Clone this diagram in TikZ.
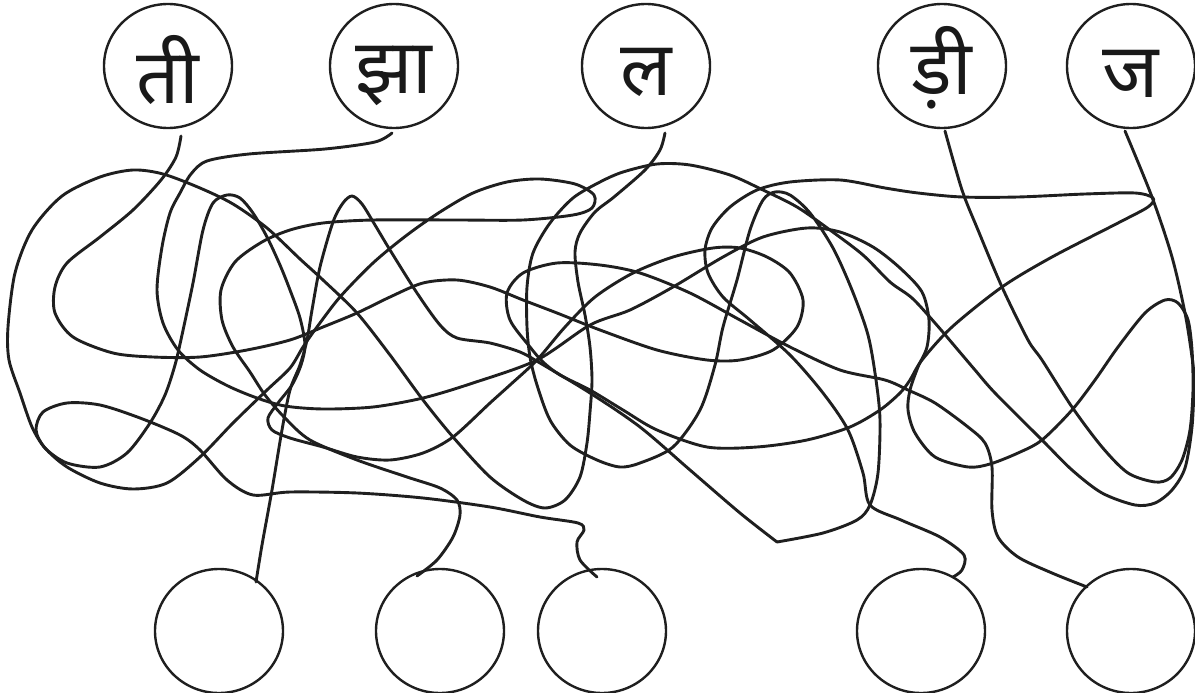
\documentclass[tikz,border=0pt]{standalone}
\usepackage{fontspec}
\newfontfamily\dev[Script=Devanagari]{Noto Sans}
\usetikzlibrary{shapes.geometric}
\tikzset{
  cnode/.style={draw=black!88, line width=2.4pt, ellipse, minimum width=128pt, minimum height=124pt, inner sep=0pt},
  lbl/.style={font=\dev\fontsize{76}{80}\selectfont, text=black!90, inner sep=0pt},
  ln/.style={draw=black!88, line width=2.9pt, line cap=round, line join=round},
  sm/.style={smooth, tension=0.5}
}
\begin{document}
\begin{tikzpicture}[x=1pt,y=-1pt]
\useasboundingbox (0,0) rectangle (1195,693);
% top circles
\node[cnode] (t1) at (168,66) {};
\node[cnode] (t2) at (394,66) {};
\node[cnode] (t3) at (646,66) {};
\node[cnode] (t4) at (942,66) {};
\node[cnode] (t5) at (1131,66) {};
\node[lbl] (l1) at ([yshift=-4pt]t1.center) {ती};
\node[lbl] (l2) at ([yshift=-10pt]t2.center) {झा};
\node[lbl] (l3) at ([yshift=-6pt]t3.center) {ल};
\node[lbl] (l4) at ([yshift=-2pt]t4.center) {ड़ी};
\node[lbl] (l5) at ([yshift=-8pt]t5.center) {ज};
% bottom circles
\node[cnode] (b1) at (219,631) {};
\node[cnode] (b2) at (440,631) {};
\node[cnode] (b3) at (602,631) {};
\node[cnode] (b4) at (921,631) {};
\node[cnode] (b5) at (1131,631) {};
% end points
\coordinate (sA) at (181,136);
\coordinate (sB) at (392,133);
\coordinate (sC) at (665,133);
\coordinate (sD) at (945,131);
\coordinate (sE) at (1125,131);
\coordinate (e1) at (256,582);
\coordinate (e2) at (417,576);
\coordinate (e3) at (597,577);
\coordinate (e4) at (953,577);
\coordinate (e5) at (1087,587);
\coordinate (kink) at (777,542);
% path from ti
\draw[ln] plot[sm] coordinates {(sA) (176,157) (161,180) (133,210) (100,237) (67,263) (55,287) (55,313) (73,337) (113,353) (153,357) (200,357) (247,350) (290,340) (323,327) (357,313) (390,297) (423,283) (457,280) (490,287) (523,300) (557,313) (600,330) (657,350) (707,360) (740,360) (773,350) (797,327) (803,300) (790,273) (767,257) (740,248) (713,248) (673,257) (633,273) (595,297) (565,327) (537,360) (510,385) (490,403) (453,437) (423,453) (390,460) (357,457) (323,447) (290,438) (272,430) (268,418) (278,403) (292,385) (301,365) (305,345) (300,318) (290,290) (280,265) (267,237) (253,213) (240,198) (227,195) (213,203) (203,230) (193,283) (182,335) (175,365) (165,395) (150,423) (127,453) (100,467) (67,463) (45,448) (36,430) (43,412) (67,403) (100,405) (140,418) (180,435) (200,450) (227,480) (253,495) (290,492) (357,493) (423,498) (490,507) (540,517) (578,523) (584,530) (577,542) (580,560) (e3)};
% path from jha
\draw[ln] plot[sm] coordinates {(sB) (375,142) (325,149) (249,154) (207,161) (191,174) (180,193) (170,213) (162,247) (157,290) (163,323) (178,350) (200,370) (228,386) (257,398) (285,406) (323,409) (373,407) (423,398) (473,383) (537,360) (590,325) (630,310) (673,287) (723,257) (763,237) (807,228) (840,232) (873,247) (900,268) (922,292) (929,320) (927,347) (918,367) (910,390) (908,410) (915,433) (935,457) (968,467) (990,464) (1018,453) (1042,440) (1072,410) (1095,380) (1118,347) (1145,313) (1165,300) (1178,303) (1188,320) (1192,350) (1193,390) (1190,430) (1182,460) (1170,478) (1155,482) (1128,473) (1102,447) (1072,407) (1042,360) (1028,340) (1002,287) (978,230) (962,190) (sD)};
% path from la
\draw[ln] plot[sm] coordinates {(sC) (660,150) (645,170) (614,197) (595,212) (580,233) (575,252) (578,282) (585,315) (590,347) (592,380) (590,412) (587,443) (580,477) (565,500) (545,508) (523,500) (490,477) (453,437) (423,400) (390,355) (357,313) (323,280) (300,259) (267,228) (233,204) (200,188) (163,174) (133,170) (100,177) (62,196) (32,230) (15,273) (8,327) (9,360) (20,393) (32,427) (45,448) (67,467) (100,483) (133,489) (167,483) (200,457) (233,423) (267,390) (290,368) (303,347) (317,327) (340,297) (373,263) (407,235) (440,212) (473,193) (507,182) (540,179) (575,184) (594,195) (592,208) (573,215) (523,220) (457,220) (373,220) (323,223) (290,230) (262,242) (235,262) (221,290) (222,320) (233,347) (250,372) (265,395) (285,418) (310,440) (357,460) (407,477) (440,488) (457,500) (460,515) (453,537) (437,560) (e2)};
% path from bottom circle 1 to the kink
\draw[ln] plot[sm] coordinates {(e1) (262,545) (272,490) (282,430) (290,390) (300,365) (307,340) (312,310) (320,267) (333,222) (343,203) (352,196) (362,204) (375,225) (390,250) (417,293) (440,325) (457,338) (490,343) (520,352) (540,363) (590,393) (640,427) (690,470) (740,513) (kink)};
% from the kink to ja
\draw[ln] plot[sm] coordinates {(kink) (823,533) (857,520) (870,505) (878,473) (880,420) (876,380) (868,335) (852,290) (833,248) (810,213) (790,195) (775,192) (763,200) (750,230) (737,280) (723,327) (715,365) (700,410) (673,447) (640,463) (620,467) (597,460) (570,445) (550,420) (537,385) (530,357) (527,327) (527,287) (533,253) (550,223) (573,198) (600,182) (623,172) (657,164) (690,165) (730,175) (763,190) (797,207) (830,230) (863,255) (890,282) (912,298) (935,323) (958,350) (975,370) (995,393) (1042,440) (1072,470) (1102,493) (1135,505) (1155,503) (1172,490) (1185,468) (1192,427) (1194,380) (1192,357) (1185,313) (1172,257) (1152,197) (sE)};
% bottom circle 4 to bottom circle 5
\draw[ln] plot[sm] coordinates {(e4) (962,570) (964,555) (940,537) (901,520) (870,505) (863,473) (848,430) (823,393) (790,355) (750,320) (723,297) (708,273) (705,250) (712,228) (730,207) (757,190) (790,182) (840,180) (885,188) (918,193) (962,197) (1018,197) (1085,194) (1135,193) (1153,198) (1148,207) (1118,223) (1052,257) (1002,287) (952,327) (922,360) (910,380) (900,393) (880,410) (850,427) (807,440) (757,447) (707,447) (657,430) (623,410) (590,390) (560,375) (543,362) (530,347) (510,320) (507,293) (523,273) (557,263) (600,265) (640,273) (690,293) (740,320) (790,347) (840,370) (885,380) (908,390) (935,403) (968,427) (985,443) (992,467) (992,510) (998,537) (1018,557) (1052,573) (e5)};
\end{tikzpicture}
\end{document}
